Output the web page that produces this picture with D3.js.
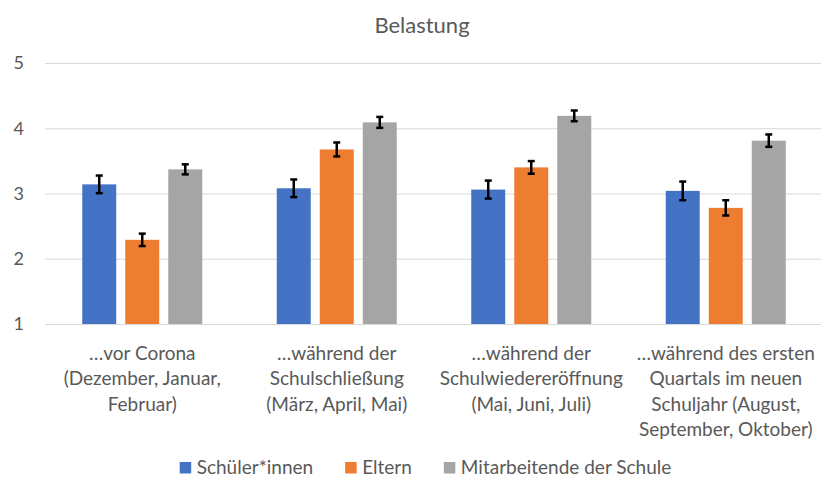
<!DOCTYPE html>
<html>
<head>
<meta charset="utf-8">
<script src="https://cdn.jsdelivr.net/npm/d3@7"></script>
<style>
  body { margin: 0; background: #fff; }
  svg text { font-family: Lato, "Open Sans", sans-serif; fill: #595959; }
</style>
</head>
<body>
<div class="root"></div>
<script>
var width = 821,
    height = 478,
    margin = {left: 45, right: -2, top: 63, bottom: 154};

var categories = [
  ["…vor Corona", "(Dezember, Januar,", "Februar)"],
  ["…während der", "Schulschließung", "(März, April, Mai)"],
  ["…während der", "Schulwiedereröffnung", "(Mai, Juni, Juli)"],
  ["…während des ersten", "Quartals im neuen", "Schuljahr (August,", "September, Oktober)"]
];
var seriesNames = ["Schüler*innen", "Eltern", "Mitarbeitende der Schule"];
var colors = ["#4472c4", "#ed7d31", "#a5a5a5"];

// means and error (± half-width) per series, in category order
var schueler = [3.14, 3.08, 3.06, 3.04],
    eltern = [2.29, 3.675, 3.40, 2.78],
    mitarbeitende = [3.37, 4.09, 4.19, 3.81];
var errSchueler = [0.135, 0.135, 0.138, 0.143],
    errEltern = [0.095, 0.107, 0.097, 0.117],
    errMitarbeitende = [0.077, 0.084, 0.082, 0.095];
var yTicks = [1, 2, 3, 4, 5];

var values = [schueler, eltern, mitarbeitende];
var errors = [errSchueler, errEltern, errMitarbeitende];

var svg = d3.select(".root")
          .append("svg")
          .attr("width", width)
          .attr("height", height);

var x0 = d3.scaleBand()
        .domain(d3.range(categories.length))
        .range([margin.left, width - margin.right]);

var x1 = d3.scaleBand()
        .domain(d3.range(seriesNames.length))
        .range([0, 120])
        .paddingInner(0.21);

var y = d3.scaleLinear()
        .domain([1, 5])
        .range([height - margin.bottom, margin.top]);

// title
svg.append("text")
  .attr("x", 422)
  .attr("y", 33)
  .attr("text-anchor", "middle")
  .style("font-size", "22px")
  .text("Belastung");

// grid + y labels
var yAxis = svg.append("g")
  .attr("transform", "translate(" + margin.left + ",0)")
  .call(d3.axisLeft(y).tickValues(yTicks).tickSize(-(width - margin.left)).tickPadding(21).tickFormat(d3.format("d")));
yAxis.select(".domain").remove();
yAxis.selectAll(".tick line").attr("stroke", "#d9d9d9").attr("stroke-width", 1);
yAxis.selectAll(".tick text").style("font-size", "18px").attr("fill", "#595959");

// bars
var groups = svg.selectAll("g.group")
  .data(categories)
  .enter().append("g")
    .attr("class", "group")
    .attr("transform", (d, i) => "translate(" + (x0(i) + (x0.bandwidth() - 120) / 2) + ",0)");

groups.each(function(c, ci) {
  var g = d3.select(this);
  seriesNames.forEach((s, si) => {
    var v = values[si][ci], e = errors[si][ci];
    var bx = x1(si), bw = x1.bandwidth(), cx = bx + bw / 2;
    g.append("rect")
      .attr("x", bx)
      .attr("y", y(v))
      .attr("width", bw)
      .attr("height", y(1) - y(v))
      .attr("fill", colors[si]);
    var eb = g.append("g").attr("stroke", "#000").attr("stroke-width", 2.5);
    eb.append("line").attr("x1", cx).attr("x2", cx).attr("y1", y(v + e)).attr("y2", y(v - e));
    eb.append("line").attr("x1", cx - 3.5).attr("x2", cx + 3.5).attr("y1", y(v + e)).attr("y2", y(v + e));
    eb.append("line").attr("x1", cx - 3.5).attr("x2", cx + 3.5).attr("y1", y(v - e)).attr("y2", y(v - e));
  });
});

// category labels
svg.selectAll("text.cat")
  .data(categories)
  .enter().append("text")
    .attr("class", "cat")
    .attr("text-anchor", "middle")
    .style("font-size", "19px")
    .attr("transform", (d, i) => "translate(" + (x0(i) + x0.bandwidth() / 2) + ",360)")
  .selectAll("tspan")
  .data(d => d)
  .enter().append("tspan")
    .attr("x", 0)
    .attr("y", (d, i) => i * 25.3)
    .text(d => d);

// legend, centred under the plot
var legend = svg.append("g").attr("transform", "translate(0,474)");
var lx = 0;
seriesNames.forEach((s, i) => {
  legend.append("rect")
    .attr("x", lx).attr("y", -12)
    .attr("width", 11.5).attr("height", 11.5)
    .attr("fill", colors[i]);
  var t = legend.append("text")
    .attr("x", lx + 17)
    .attr("y", 0)
    .style("font-size", "19px")
    .text(s);
  lx += 17 + t.node().getComputedTextLength() + (i < seriesNames.length - 1 ? 32 : 0);
});
legend.attr("transform", "translate(" + (425.5 - lx / 2) + ",474)");
</script>
</body>
</html>
